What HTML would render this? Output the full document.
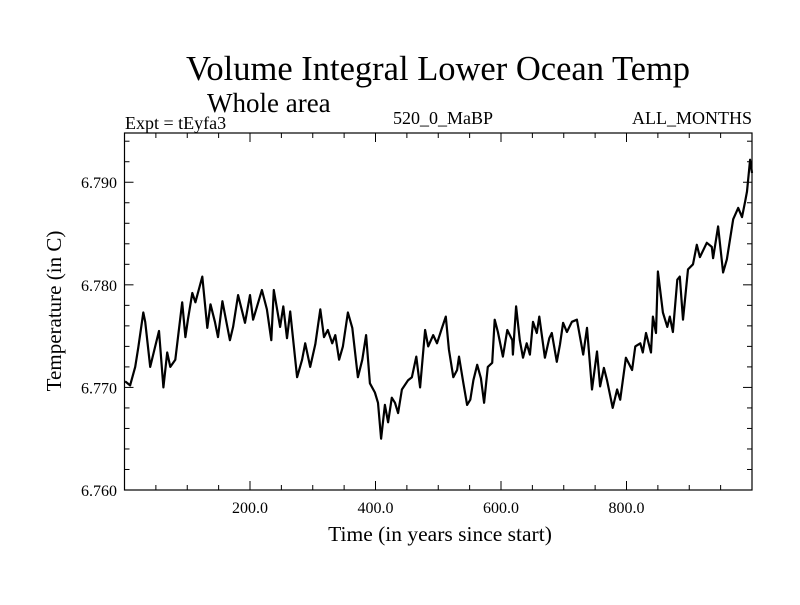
<!DOCTYPE html>
<html><head><meta charset="utf-8"><style>
body{margin:0;background:#fff}
svg text{font-family:"Liberation Serif",serif;fill:#000}
</style></head><body>
<svg id="chart" width="800" height="600">
<rect width="800" height="600" fill="#fff"/>
<text x="438" y="80" font-size="34.5" text-anchor="middle">Volume Integral Lower Ocean Temp</text>
<text x="207" y="112" font-size="27">Whole area</text>
<text x="125" y="129" font-size="18">Expt = tEyfa3</text>
<text x="443" y="124" font-size="18" text-anchor="middle">520_0_MaBP</text>
<text x="752" y="124" font-size="18" text-anchor="end">ALL_MONTHS</text>
<text x="440" y="541" font-size="21.5" text-anchor="middle">Time (in years since start)</text>
<text transform="translate(61,311) rotate(-90)" font-size="21" text-anchor="middle">Temperature (in C)</text>
<g id="axes"></g>
<path id="series" fill="none" stroke="#000" stroke-width="2.2" stroke-linejoin="round"/>
</svg>
<script>
const years=[1,9,17,22,30,33,41,49,55,62,68,73,81,86,92,97,101,108,113,117,124,132,137,144,149,156,168,173,181,192,200,205,219,227,234,238,248,253,259,264,275,283,288,296,304,312,318,324,331,336,342,348,356,363,372,379,385,391,399,404,409,415,420,426,431,436,442,452,458,465,471,479,484,492,498,506,512,517,524,530,533,540,546,551,556,562,568,573,579,586,590,595,603,610,618,619,624,630,635,641,646,651,657,661,670,677,681,689,694,699,705,713,721,731,737,745,753,758,764,769,778,785,790,799,809,814,822,826,831,839,842,847,850,858,865,869,874,881,885,890,898,906,912,917,928,936,938,946,954,960,970,978,984,989,992,997,1000];
const temps=[6.7706,6.7702,6.7720,6.7739,6.7773,6.7764,6.7720,6.7740,6.7755,6.7700,6.7734,6.7720,6.7727,6.7753,6.7783,6.7749,6.7766,6.7792,6.7783,6.7792,6.7808,6.7758,6.7781,6.7764,6.7749,6.7784,6.7746,6.7759,6.7790,6.7763,6.7790,6.7766,6.7795,6.7776,6.7746,6.7795,6.7759,6.7779,6.7748,6.7774,6.7710,6.7727,6.7743,6.7720,6.7742,6.7776,6.7749,6.7756,6.7743,6.7751,6.7727,6.7740,6.7773,6.7758,6.7710,6.7727,6.7751,6.7704,6.7695,6.7685,6.7650,6.7683,6.7666,6.7690,6.7685,6.7675,6.7698,6.7707,6.7710,6.7730,6.7700,6.7756,6.7740,6.7751,6.7743,6.7758,6.7769,6.7737,6.7710,6.7717,6.7730,6.7704,6.7683,6.7688,6.7707,6.7722,6.7709,6.7685,6.7720,6.7724,6.7766,6.7754,6.7730,6.7756,6.7746,6.7732,6.7779,6.7746,6.7729,6.7743,6.7732,6.7764,6.7753,6.7769,6.7729,6.7748,6.7753,6.7725,6.7742,6.7763,6.7754,6.7764,6.7766,6.7732,6.7758,6.7698,6.7735,6.7701,6.7719,6.7707,6.7680,6.7698,6.7688,6.7729,6.7717,6.7740,6.7743,6.7734,6.7753,6.7734,6.7769,6.7753,6.7813,6.7773,6.7759,6.7769,6.7754,6.7805,6.7808,6.7766,6.7815,6.7820,6.7839,6.7827,6.7841,6.7837,6.7826,6.7857,6.7812,6.7825,6.7864,6.7875,6.7866,6.7881,6.7891,6.7922,6.7909];
const xTicks=[200,400,600,800];
const xTickLabels=["200.0","400.0","600.0","800.0"];
const yTicks=[6.76,6.77,6.78,6.79];
const yTickLabels=["6.760","6.770","6.780","6.790"];
const L=124.5,R=752,T=133,B=490,X0=0,X1=1000,Y0=6.76,Y1=6.7948;
const sx=v=>L+(v-X0)/(X1-X0)*(R-L);
const sy=v=>B-(v-Y0)/(Y1-Y0)*(B-T);
const NS="http://www.w3.org/2000/svg";
const ax=document.getElementById('axes');
function mk(tag,attrs,parent){const e=document.createElementNS(NS,tag);for(const k in attrs)e.setAttribute(k,attrs[k]);(parent||ax).appendChild(e);return e;}
const frame=mk('rect',{x:L,y:T,width:R-L,height:B-T,fill:'none',stroke:'#000','stroke-width':1.2});


for(let v=50;v<X1;v+=50){const major=v%200===0;const len=major?9:5;const x=sx(v);
 const t1=mk('line',{x1:x,x2:x,y1:B,y2:B-len,stroke:'#000','stroke-width':1});
 
 
 const t2=mk('line',{x1:x,x2:x,y1:T,y2:T+len,stroke:'#000','stroke-width':1});
 
 }
for(let v=Y0+0.002;v<Y1;v+=0.002){const major=Math.abs(Math.round(v*1000)%10)===0;const len=major?9:5;const y=sy(v);
 const t1=mk('line',{x1:L,x2:L+len,y1:y,y2:y,stroke:'#000','stroke-width':1});
 
 
 const t2=mk('line',{x1:R,x2:R-len,y1:y,y2:y,stroke:'#000','stroke-width':1});
 
 }
xTicks.forEach((v,i)=>{const t=mk('text',{x:sx(v),y:513,'font-size':16,'text-anchor':'middle'});t.textContent=xTickLabels[i];
 
 });
yTicks.forEach((v,i)=>{const t=mk('text',{x:117,y:sy(v)+6,'font-size':16,'text-anchor':'end'});t.textContent=yTickLabels[i];
 
 });
document.getElementById('series').setAttribute('d',years.map((y,i)=>(i?'L':'M')+sx(y).toFixed(1)+','+sy(temps[i]).toFixed(1)).join(''));
</script>
</body></html>
